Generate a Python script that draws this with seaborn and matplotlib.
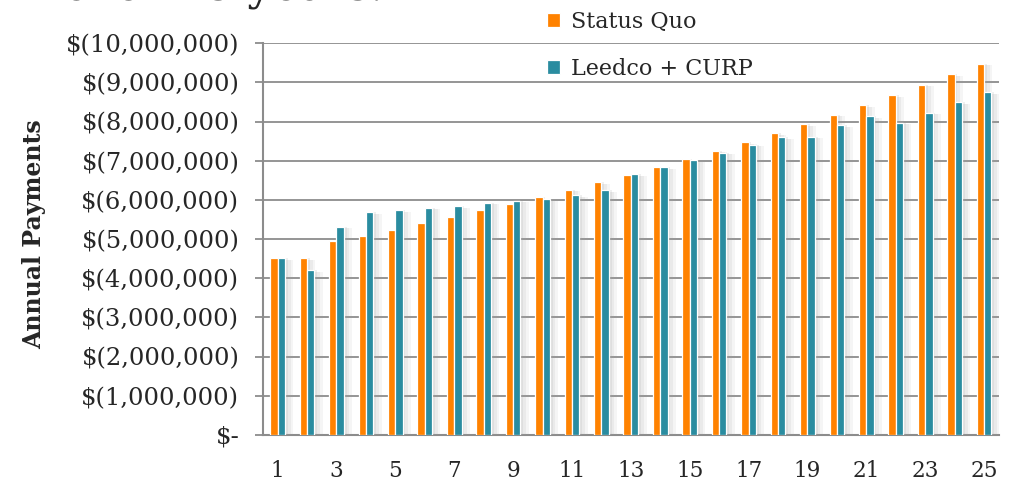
import numpy as np
import pandas as pd
import matplotlib
matplotlib.use("Agg")
import matplotlib.pyplot as plt
import matplotlib.patheffects as pe
from matplotlib.ticker import FuncFormatter, FixedLocator
import seaborn as sns

# data (millions of dollars)
years = list(range(1, 26))
status_quo = [4.51, 4.51, 4.94, 5.08, 5.24, 5.40, 5.57, 5.73, 5.90, 6.07,
              6.25, 6.45, 6.64, 6.84, 7.04, 7.26, 7.47, 7.70, 7.93, 8.17,
              8.41, 8.67, 8.94, 9.21, 9.48]
leedco_curp = [4.51, 4.20, 5.32, 5.68, 5.73, 5.79, 5.84, 5.92, 5.97, 6.03,
               6.12, 6.24, 6.65, 6.83, 7.02, 7.20, 7.41, 7.60, 7.61, 7.90,
               8.13, 7.96, 8.22, 8.49, 8.75]
series_names = ["Status Quo", "Leedco + CURP"]
colors = ["#FF8200", "#2A8CA0"]
y_ticks = list(range(0, 11))

df = pd.DataFrame({
    "year": years * 2,
    "series": [series_names[0]] * 25 + [series_names[1]] * 25,
    "value": [v * 1e6 for v in status_quo + leedco_curp],
})

sns.set_style("white")
plt.rcParams["font.family"] = ["DejaVu Serif"]

fig = plt.figure(figsize=(10.15, 4.8), dpi=100)
ax = fig.add_axes([0.259, 0.094, 0.725, 0.816])

sns.barplot(data=df, x="year", y="value", hue="series", palette=colors,
            width=0.5, edgecolor="white", linewidth=0.9, saturation=1,
            ax=ax, zorder=3)

ax.set_xlim(-0.5, 24.5)
ax.set_ylim(0, 10e6)
ax.yaxis.set_major_locator(FixedLocator([t * 1e6 for t in y_ticks]))


def money(v, pos):
    if v == 0:
        return "$-"
    return "$({:,.0f})".format(v)


ax.yaxis.set_major_formatter(FuncFormatter(money))
ax.grid(axis="y", color="#8c8c8c", linewidth=1.3)
ax.set_axisbelow(True)

ax.set_xticks(range(25))
ax.set_xticklabels([str(y) if y % 2 == 1 else "" for y in years])
ax.tick_params(axis="x", length=0, pad=18, labelsize=15.5)
ax.set_xticks(np.arange(0.5, 24.5, 1.0), minor=True)
ax.tick_params(axis="x", which="minor", direction="in", length=5,
               width=1.2, color="#8c8c8c")
ax.tick_params(axis="y", length=6, width=1.3, color="#8c8c8c", pad=11,
               labelsize=17.5, left=True)

for side in ["top", "right"]:
    ax.spines[side].set_visible(False)
for side in ["left", "bottom"]:
    ax.spines[side].set_color("#8c8c8c")
    ax.spines[side].set_linewidth(1.5)

ax.set_xlabel("")
ax.set_ylabel("Annual Payments", fontsize=17, fontweight="bold")
ax.yaxis.set_label_coords(-0.295, 0.513)

ax.legend(loc="upper left", bbox_to_anchor=(0.528, 1.0),
          bbox_transform=fig.transFigure, frameon=False, fontsize=16,
          handlelength=0.6, handleheight=0.6, handletextpad=0.5,
          labelspacing=1.1, borderpad=0)

# soft drop shadow to the right of each bar (not on legend handles)
shadow = [
    pe.SimplePatchShadow(offset=(6, -1), shadow_rgbFace="#a0a0a0", alpha=0.10),
    pe.SimplePatchShadow(offset=(4, -1), shadow_rgbFace="#a0a0a0", alpha=0.13),
    pe.SimplePatchShadow(offset=(2, 0), shadow_rgbFace="#a0a0a0", alpha=0.16),
    pe.Normal(),
]
for bar in ax.patches:
    bar.set_path_effects(shadow)

# title cut off at the top edge of the slide
fig.text(0.062, 0.9995, "over 25 years.", fontsize=32, va="baseline")

fig.savefig("out.png", dpi=100)
